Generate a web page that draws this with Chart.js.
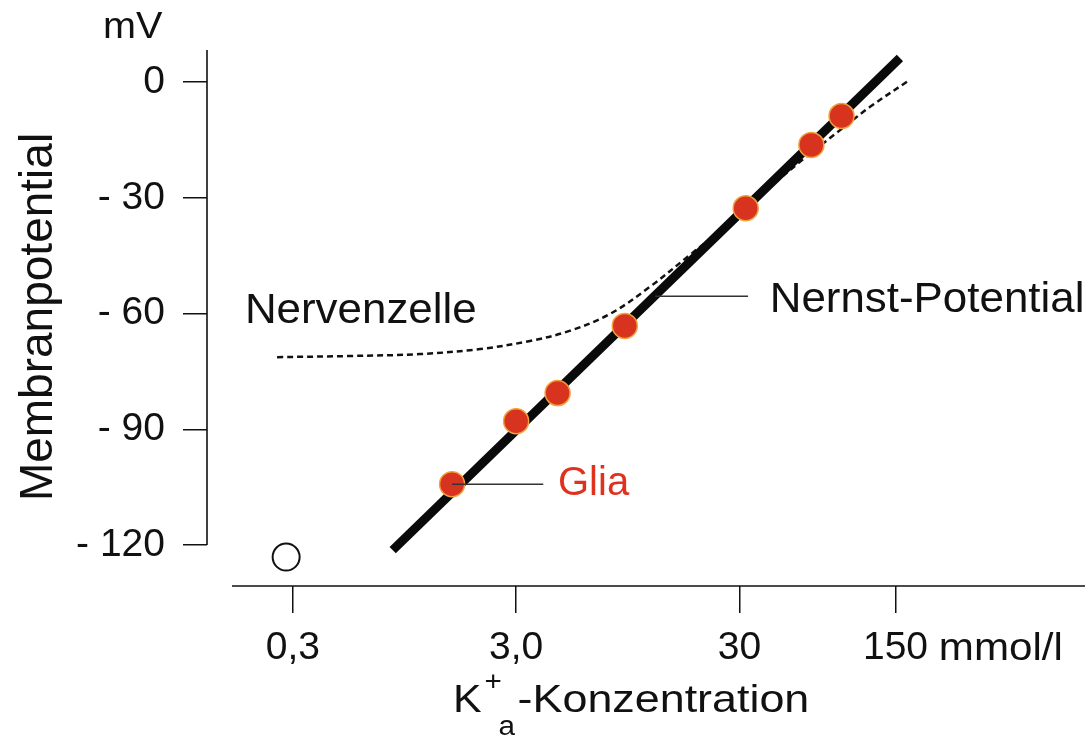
<!DOCTYPE html>
<html lang="de">
<head>
<meta charset="UTF-8">
<title>Membranpotential</title>
<script src="https://cdn.jsdelivr.net/npm/chart.js@4.4.1/dist/chart.umd.min.js"></script>
<style>
    body { margin: 0; background: #fff; }
    canvas { display: block; }
</style>
</head>
<body>
<canvas id="chart" width="1088" height="740"></canvas>
<script>
// K+ concentration (mmol/l, log axis) vs membrane potential (mV)
const xTickValues = [0.3, 3, 30, 150];
const xTickLabels = ['0,3', '3,0', '30', '150'];
const yTickValues = [0, -30, -60, -90, -120];
const yTickLabels = ['0', '- 30', '- 60', '- 90', '- 120'];

const gliaK  = [1.55, 3.0, 4.6, 9.2, 32, 63, 86];
const gliaMV = [-104.2, -87.9, -80.6, -63.2, -32.7, -16.3, -8.8];

const nernstK  = [0.84, 157];
const nernstMV = [-121.3, 6.2];

const nervK  = [0.255, 0.54, 1.11, 2.07, 3.46, 5.2, 7.9, 11.9, 18.0, 24.5, 37, 56, 85, 115, 171];
const nervMV = [-71.3, -71.0, -70.5, -69.2, -67.1, -64.5, -60.1, -53.1, -44.8, -38.6, -29.5, -20.7, -12.4, -6.5, 0.3];

const openK  = [0.28];
const openMV = [-123.1];

const FONT = '"Liberation Sans", Arial, Helvetica, sans-serif';

function pts(xs, ys) {
    return xs.map((x, i) => ({ x: x, y: ys[i] }));
}

// text slightly wider than the font gives, like the printed figure
function wideText(ctx, text, x, y, sx) {
    ctx.save();
    ctx.translate(x, y);
    ctx.scale(sx, 1);
    ctx.fillText(text, 0, 0);
    const w = ctx.measureText(text).width * sx;
    ctx.restore();
    return w;
}

const labels = {
    id: 'labels',
    afterDatasetsDraw(chart) {
        const ctx = chart.ctx;
        const xs = chart.scales.x, ys = chart.scales.y;
        const ca = chart.chartArea;
        const px = v => xs.getPixelForValue(v);
        const py = v => ys.getPixelForValue(v);

        ctx.save();
        // detached axis lines
        ctx.strokeStyle = '#111';
        ctx.lineWidth = 1.6;
        ctx.beginPath();
        ctx.moveTo(ca.left, ca.top);
        ctx.lineTo(ca.left, py(-120));
        ctx.moveTo(ca.left + 25, ca.bottom);
        ctx.lineTo(ca.right, ca.bottom);
        ctx.stroke();

        // leader lines
        ctx.strokeStyle = '#333';
        ctx.lineWidth = 1.5;
        ctx.beginPath();
        ctx.moveTo(px(12.6), py(-55.5));
        ctx.lineTo(px(32.8), py(-55.5));
        ctx.moveTo(px(gliaK[0]), py(gliaMV[0]));
        ctx.lineTo(px(3.97), py(gliaMV[0]));
        ctx.stroke();

        ctx.fillStyle = '#111';
        ctx.textAlign = 'left';
        ctx.textBaseline = 'alphabetic';
        ctx.font = '42px ' + FONT;
        wideText(ctx, 'Nervenzelle', px(0.183), py(-62.5), 1.045);
        wideText(ctx, 'Nernst-Potential', px(41), py(-59.5), 1.045);
        ctx.font = '40px ' + FONT;
        ctx.fillStyle = '#e0311f';
        ctx.fillText('Glia', px(4.62), py(-107.0));

        // units
        ctx.fillStyle = '#111';
        ctx.font = '36px ' + FONT;
        wideText(ctx, 'mV', 103, 38, 1.1);

        ctx.font = '39px ' + FONT;
        const w150 = ctx.measureText('150').width;
        const sp = ctx.measureText(' ').width;
        wideText(ctx, 'mmol/l', px(150) + w150 / 2 + sp, 660, 1.08);

        // y title
        ctx.save();
        ctx.translate(52, 317);
        ctx.rotate(-Math.PI / 2);
        ctx.textAlign = 'center';
        ctx.font = '46px ' + FONT;
        ctx.fillText('Membranpotential', 0, 0);
        ctx.restore();

        // x title with super/subscript
        const base = 712;
        let x = 453;
        ctx.font = '39px ' + FONT;
        x += wideText(ctx, 'K', x, base, 1.1) + 3;
        ctx.font = '27px ' + FONT;
        wideText(ctx, '+', x, base - 22, 1.1);
        wideText(ctx, 'a', x + 14, base + 23, 1.1);
        x += 33;
        ctx.font = '39px ' + FONT;
        wideText(ctx, '-Konzentration', x, base, 1.15);
        ctx.restore();
    }
};

new Chart(document.getElementById('chart'), {
    type: 'scatter',
    data: {
        datasets: [
            {
                data: pts(gliaK, gliaMV),
                pointRadius: 12.5,
                pointHoverRadius: 12.5,
                backgroundColor: '#d8331f',
                borderColor: '#f0a33c',
                borderWidth: 1.5,
                showLine: false
            },
            {
                data: pts(openK, openMV),
                pointRadius: 13.5,
                backgroundColor: '#fff',
                borderColor: '#111',
                borderWidth: 2,
                showLine: false
            },
            {
                data: pts(nernstK, nernstMV),
                showLine: true,
                borderColor: '#0a0a0a',
                borderWidth: 9,
                borderCapStyle: 'butt',
                pointRadius: 0
            },
            {
                data: pts(nervK, nervMV),
                showLine: true,
                borderColor: '#111',
                borderWidth: 2.5,
                borderDash: [6, 4],
                tension: 0.35,
                pointRadius: 0
            }
        ]
    },
    options: {
        responsive: false,
        animation: false,
        layout: {
            autoPadding: false,
            padding: { top: 50, right: 3, left: 0, bottom: 0 }
        },
        plugins: {
            legend: { display: false },
            tooltip: { enabled: false }
        },
        scales: {
            x: {
                type: 'logarithmic',
                min: 0.1238,
                max: 1058.7,
                border: { display: false },
                grid: {
                    drawOnChartArea: false,
                    drawTicks: true,
                    tickLength: 27,
                    color: '#111',
                    lineWidth: 1.5
                },
                ticks: {
                    autoSkip: false,
                    maxRotation: 0,
                    padding: 12,
                    color: '#111',
                    font: { family: FONT, size: 39 },
                    callback: v => xTickLabels[xTickValues.indexOf(v)] ?? ''
                },
                afterBuildTicks: s => { s.ticks = xTickValues.map(v => ({ value: v })); },
                afterFit: s => {
                    s.height = 154;
                    s.paddingLeft = 0;
                    s.paddingRight = 0;
                }
            },
            y: {
                min: -130.6,
                max: 8.3,
                border: { display: false },
                grid: {
                    drawOnChartArea: false,
                    drawTicks: true,
                    tickLength: 24,
                    color: '#111',
                    lineWidth: 1.5
                },
                ticks: {
                    padding: 18,
                    color: '#111',
                    font: { family: FONT, size: 39 },
                    callback: v => yTickLabels[yTickValues.indexOf(v)] ?? ''
                },
                afterBuildTicks: s => { s.ticks = yTickValues.map(v => ({ value: v })); },
                afterFit: s => {
                    s.width = 207;
                    s.paddingTop = 0;
                    s.paddingBottom = 0;
                }
            }
        }
    },
    plugins: [labels]
});
</script>
</body>
</html>
